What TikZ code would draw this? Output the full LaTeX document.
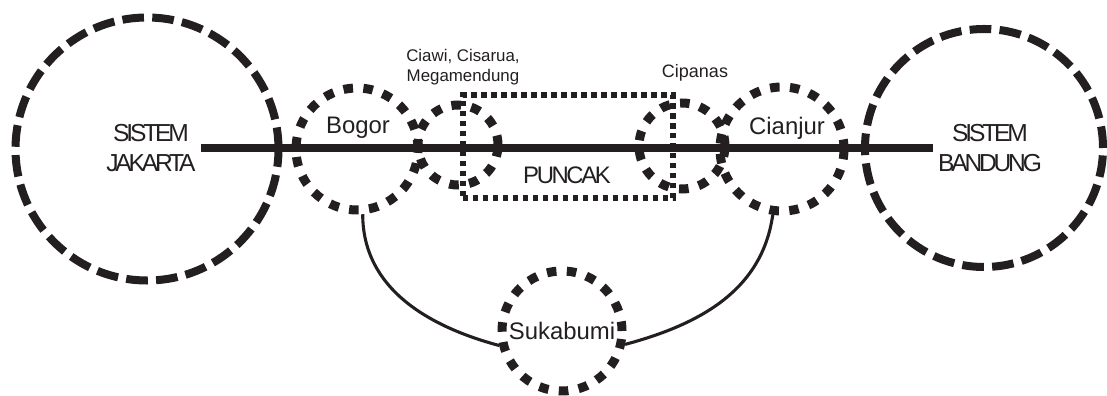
\documentclass[tikz,border=0pt]{standalone}
\usepackage{fontspec}
\setmainfont{Liberation Sans}
\newfontfamily\tightfont[LetterSpace=-10]{Liberation Sans}
\newfontfamily\systemfont[LetterSpace=-13]{Liberation Sans}
\usetikzlibrary{positioning}
\definecolor{ink}{RGB}{35,31,32}

\begin{document}
\begin{tikzpicture}[font=\fontsize{17}{21}\selectfont, text=ink]
    \tikzset{
        sysring/.style={circle, draw=ink, line width=5.7pt, dash pattern=on 15.4pt off 5.9pt, inner sep=0pt, minimum size=#1},
        townring/.style={circle, draw=ink, line width=6.4pt, dash pattern=on 6.8pt off 7.4pt, inner sep=0pt, minimum size=#1},
        zonebox/.style={draw=ink, line width=3.6pt, dash pattern=on 3.9pt off 3.2pt, minimum width=5.25cm, minimum height=2.575cm},
        syslabel/.style={font=\systemfont\fontsize{17.5}{22}\selectfont, align=center},
        smalllabel/.style={font=\fontsize{12}{14.2}\selectfont, align=center},
        mainroad/.style={draw=ink, line width=5pt},
        road/.style={draw=ink, line width=2.2pt},
    }
    \useasboundingbox (0,0) rectangle (27.675,9.9);

    % the two city systems
    \node[sysring=6.575cm] (jakarta) at (3.675,6.175) {};
    \node[sysring=5.95cm] (bandung) at (24.6,6.2) {};
    \node[syslabel] (jktlabel) at (3.775,6.2) {SISTEM\\JAKARTA};
    \node[syslabel] (bdglabel) at (24.75,6.2) {SISTEM\\BANDUNG};

    % towns along the corridor
    \node[townring=3.05cm] (bogor) at (8.925,6.175) {};
    \node[townring=2.0cm] (ciawi) at (11.45,6.275) {};
    \node[townring=2.15cm] (cipanas) at (17.05,6.25) {};
    \node[townring=3.1cm] (cianjur) at (19.55,6.175) {};
    \node[townring=3.0cm] (sukabumi) at (14.05,1.625) {Sukabumi};

    \node[zonebox] (puncak) at (14.2,6.2375) {};
    \node[font=\tightfont\fontsize{17}{21}\selectfont] (puncaklabel) at (14.175,5.525) {PUNCAK};

    \node (bogorlabel) at (8.95,6.7) {Bogor};
    \node (cianjurlabel) at (19.675,6.7) {Cianjur};
    \node[smalllabel] (ciawilabel) at (11.575,8.225) {Ciawi, Cisarua,\\Megamendung};
    \node[smalllabel, font=\fontsize{12.8}{15}\selectfont] (cipanaslabel) at (17.375,8.075) {Cipanas};

    % roads
    \draw[mainroad] (jktlabel.east) -- (bdglabel.west);
    \draw[road] (bogor.-85) to[out=-90, in=165] (sukabumi.193);
    \draw[road] (sukabumi.-12) to[out=15, in=-98] (cianjur.-98);
\end{tikzpicture}
\end{document}
